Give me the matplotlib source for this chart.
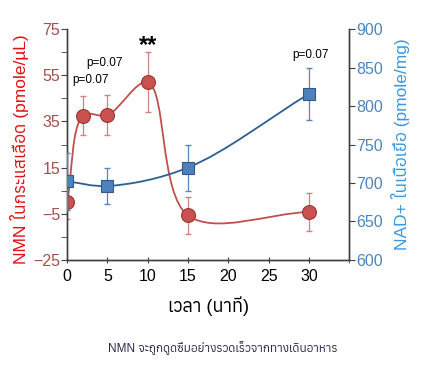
import numpy as np
import matplotlib
matplotlib.use("Agg")
import matplotlib.pyplot as plt
from matplotlib import font_manager
from matplotlib.path import Path
from matplotlib.patches import PathPatch
from matplotlib.ft2font import FT2Font

# data
t_nmn = [0, 2, 5, 10, 15, 30]
nmn = [0.0, 37.6, 37.8, 52.0, -5.8, -4.3]
nmn_err = [7.5, 8.3, 8.5, 13.0, 8.0, 8.3]

t_nad = [0, 5, 15, 30]
nad = [702, 696, 720, 816]
nad_err = [37, 24, 30, 34]

x_ticks = [0, 5, 10, 15, 20, 25, 30]
left_ticks = [-25, -5, 15, 35, 55, 75]
right_ticks = [600, 650, 700, 750, 800, 850, 900]

ylabel_left = "NMN ในกระแสเลือด (pmole/µL)"
ylabel_right = "NAD+ ในเนื้อเยื่อ (pmole/mg)"
xlabel = "เวลา (นาที)"
caption = "NMN จะถูกดูดซึมอย่างรวดเร็วจากทางเดินอาหาร"


def thai_font():
    # matplotlib does no shaping, so pick a Thai font whose marks have zero advance
    found = []
    for path in font_manager.findSystemFonts():
        try:
            f = FT2Font(path)
            cmap = f.get_charmap()
            if 0x0E01 in cmap and 0x0E37 in cmap:
                adv = f.load_char(0x0E37).linearHoriAdvance
                name = font_manager.FontProperties(fname=path).get_name()
                found.append((adv != 0, name != "Anuphan", name))
        except Exception:
            continue
    found.sort()
    return found[0][2] if found else None


thai = thai_font()
fams = ["Liberation Sans", "DejaVu Sans"]
if thai:
    fams = ["Liberation Sans", thai, "DejaVu Sans"]
plt.rcParams["font.family"] = fams


def smooth_path(ax, xs, ys, color, alpha=0.5):
    # centripetal Catmull-Rom drawn as bezier segments, built in screen space
    pts = ax.transData.transform(np.column_stack([xs, ys]))
    P = np.vstack([2 * pts[0] - pts[1], pts, 2 * pts[-1] - pts[-2]])
    verts = [pts[0]]
    codes = [Path.MOVETO]
    for i in range(1, len(P) - 2):
        p0, p1, p2, p3 = P[i - 1], P[i], P[i + 1], P[i + 2]
        d1 = np.linalg.norm(p1 - p0) ** alpha
        d2 = np.linalg.norm(p2 - p1) ** alpha
        d3 = np.linalg.norm(p3 - p2) ** alpha
        b1 = (d1 ** 2 * p2 - d2 ** 2 * p0 + (2 * d1 ** 2 + 3 * d1 * d2 + d2 ** 2) * p1) / (3 * d1 * (d1 + d2))
        b2 = (d3 ** 2 * p1 - d2 ** 2 * p3 + (2 * d3 ** 2 + 3 * d3 * d2 + d2 ** 2) * p2) / (3 * d3 * (d3 + d2))
        verts += [b1, b2, p2]
        codes += [Path.CURVE4] * 3
    verts = ax.transData.inverted().transform(np.array(verts))
    ax.add_patch(PathPatch(Path(verts, codes), fill=False, edgecolor=color, lw=1.3, zorder=2))


fig = plt.figure(figsize=(4.36, 3.72), dpi=100)
ax = fig.add_axes([0.154, 0.302, 0.647, 0.619])
ax2 = ax.twinx()

ax.set_xlim(0, 35)
ax.set_ylim(-25, 75)
ax2.set_ylim(600, 900)

red_line = "#c0504d"
red_face = "#c9514f"
red_edge = "#9c3533"
blue_line = "#2b5f93"
blue_face = "#4f81bd"
blue_edge = "#2f5a8a"

smooth_path(ax, t_nmn, nmn, red_line)
ax.errorbar(t_nmn, nmn, yerr=nmn_err, fmt="none", ecolor="#d08080", elinewidth=0.9, capsize=2, zorder=3)
ax.plot(t_nmn, nmn, "o", ms=10, mfc=red_face, mec=red_edge, mew=0.8, zorder=4)

smooth_path(ax2, t_nad, nad, blue_line)
ax2.errorbar(t_nad, nad, yerr=nad_err, fmt="none", ecolor="#5a86b5", elinewidth=0.9, capsize=2, zorder=3)
ax2.plot(t_nad, nad, "s", ms=8.5, mfc=blue_face, mec=blue_edge, mew=0.8, zorder=4)

ax.set_xticks(x_ticks)
ax.set_xticks([35], minor=True)
ax.set_yticks(left_ticks)
ax.set_yticks([-15, 5, 25, 45, 65], minor=True)
ax2.set_yticks(right_ticks)

for a in (ax, ax2):
    a.spines["top"].set_visible(False)
    for s in ("left", "right", "bottom"):
        a.spines[s].set_color("#404040")
        a.spines[s].set_linewidth(1.0)

ax.tick_params(axis="x", which="both", direction="inout", length=5, color="#404040", labelsize=11.5, pad=4)
ax.tick_params(axis="y", which="both", direction="out", length=4, color="#404040", labelsize=11.5,
               labelcolor="#a5504d", pad=1)
ax2.tick_params(axis="y", direction="out", length=4, color="#404040", labelsize=11.5,
                labelcolor="#4a86c0", pad=1)

ax.set_ylabel(ylabel_left, color="#e01010", fontsize=12.5)
ax.yaxis.set_label_coords(-0.135, 0.48)
ax2.set_ylabel(ylabel_right, color="#3a96e0", fontsize=12.5, labelpad=6)
ax.set_xlabel(xlabel, fontsize=13, labelpad=9)

ax.text(10, 68, "**", ha="center", va="center", fontsize=17, fontweight="bold")
ax.text(4.6, 60.5, "p=0.07", ha="center", va="center", fontsize=8.5)
ax.text(2.9, 53, "p=0.07", ha="center", va="center", fontsize=8.5)
ax2.text(30.2, 867, "p=0.07", ha="center", va="center", fontsize=8.5)

fig.text(0.51, 0.065, caption, ha="center", va="center", fontsize=8.5, color="#2a2a4a")

fig.savefig("out.png", dpi=100)
